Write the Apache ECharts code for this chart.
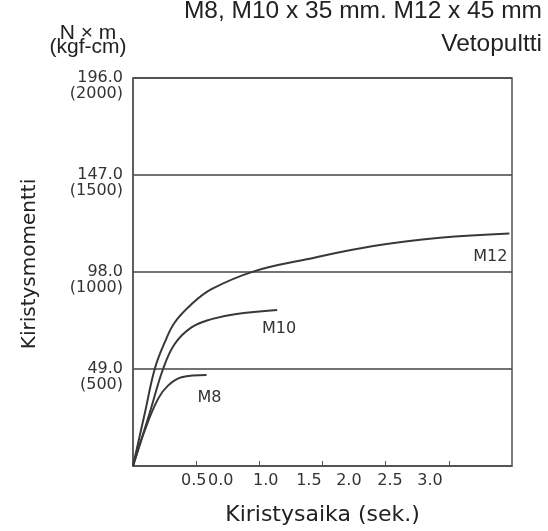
<!DOCTYPE html>
<html>
<head>
<meta charset="utf-8">
<script src="https://cdn.jsdelivr.net/npm/echarts@6/dist/echarts.min.js"></script>
<style>
html,body{margin:0;padding:0;background:#fff;}
#container{width:548px;height:531px;}
</style>
</head>
<body>
<div id="container"></div>
<script>
// tiedot luettu kuvasta (x = sek., y = N x m)
var m12X = [0, 0.093, 0.172, 0.251, 0.330, 0.463, 0.621, 0.951, 1.374, 1.902, 2.430, 2.979];
var m12Y = [0, 26.5, 49.0, 62.4, 72.5, 81.7, 89.3, 98.2, 104.4, 111.1, 115.3, 117.5];
var m10X = [0, 0.132, 0.238, 0.330, 0.463, 0.621, 0.806, 1.141];
var m10Y = [0, 26.8, 49.0, 61.6, 70.0, 74.2, 76.7, 78.8];
var m8X = [0, 0.093, 0.198, 0.277, 0.384, 0.582];
var m8Y = [0, 18.0, 33.9, 40.6, 44.8, 46.0];

// akselien merkinnät
var xTickValues = [0.5, 1.0, 1.5, 2.0, 2.5];
var xLabelPos = [0.481, 0.695, 1.051, 1.392, 1.709, 2.034, 2.351];
var xLabelText = ['0.5', '0.0', '1.0', '1.5', '2.0', '2.5', '3.0'];
var yTickValues = [49, 98, 147, 196];
var yKgfLabels = ['(500)', '(1000)', '(1500)', '(2000)'];

function pairs(xs, ys) {
	var out = [];
	for (var i = 0; i < xs.length; i++) {
		out.push([xs[i], ys[i]]);
	}
	return out;
}

var lineColor = '#383838';
var tickFont = 'DejaVu Sans';

function curve(name, xs, ys, endLabel) {
	return {
		name: name,
		type: 'line',
		data: pairs(xs, ys),
		smooth: 0.4,
		showSymbol: false,
		symbol: 'none',
		lineStyle: { color: lineColor, width: 2 },
		endLabel: endLabel
	};
}

function titleText(text, top) {
	return {
		text: text,
		right: 6,
		top: top,
		padding: 0,
		textStyle: {
			fontFamily: 'Liberation Sans',
			fontSize: 24.5,
			fontWeight: 'normal',
			color: '#222'
		}
	};
}

var myChart = echarts.init(document.getElementById('container'));
var option = {
	animation: false,
	title: [
		titleText('M8, M10 x 35 mm. M12 x 45 mm', -1),
		titleText('Vetopultti', 32),
		{
			text: 'N \u00d7 m\n(kgf-cm)',
			left: 88,
			top: 26,
			padding: 0,
			textAlign: 'center',
			textStyle: {
				fontFamily: 'Liberation Sans',
				fontSize: 21,
				fontWeight: 'normal',
				color: '#222',
				lineHeight: 14
			}
		}
	],
	grid: {
		left: 133,
		right: 36,
		top: 78,
		bottom: 64,
		show: true,
		borderColor: '#555',
		borderWidth: 1.5
	},
	xAxis: {
		type: 'value',
		min: 0,
		max: 3,
		interval: 0.5,
		name: 'Kiristysaika (sek.)',
		nameLocation: 'middle',
		nameGap: 38,
		nameTextStyle: { fontFamily: tickFont, fontSize: 22, color: '#222' },
		axisLine: { show: true, lineStyle: { color: '#555', width: 1.5 } },
		axisTick: { show: true, inside: true, length: 5, customValues: xTickValues, lineStyle: { color: '#555' } },
		axisLabel: {
			customValues: xLabelPos,
			margin: 7,
			fontFamily: tickFont,
			fontSize: 16,
			color: '#333',
			formatter: function(v) {
				var best = 0;
				for (var i = 1; i < xLabelPos.length; i++) {
					if (Math.abs(xLabelPos[i] - v) < Math.abs(xLabelPos[best] - v)) best = i;
				}
				return xLabelText[best];
			}
		},
		splitLine: { show: false }
	},
	yAxis: {
		type: 'value',
		min: 0,
		max: 196,
		interval: 49,
		name: 'Kiristysmomentti',
		nameLocation: 'middle',
		nameGap: 93,
		nameTextStyle: { fontFamily: tickFont, fontSize: 20, color: '#222', padding: [0, 0, 0, 16] },
		axisLine: { show: true, lineStyle: { color: '#555', width: 1.5 } },
		axisTick: { show: false },
		axisLabel: {
			customValues: yTickValues,
			margin: 10,
			fontFamily: tickFont,
			fontSize: 16,
			color: '#333',
			lineHeight: 16,
			formatter: function(v) {
				var i = yTickValues.indexOf(v);
				if (i < 0) return '';
				// tyhjä rivi ylhäällä, jotta ensimmäinen rivi osuu viivan kohdalle
				return ' \n' + v.toFixed(1) + '\n' + yKgfLabels[i];
			}
		},
		splitLine: { show: true, lineStyle: { color: '#444', width: 1.5 } }
	},
	series: [
		curve('M12', m12X, m12Y, {
			show: true, formatter: 'M12', distance: 0, align: 'right', verticalAlign: 'top',
			padding: [15, 2, 0, 0], fontFamily: tickFont, fontSize: 16, color: '#333'
		}),
		curve('M10', m10X, m10Y, {
			show: true, formatter: 'M10', distance: 0, align: 'center', verticalAlign: 'top',
			padding: [11, 0, 0, 4], fontFamily: tickFont, fontSize: 16, color: '#333'
		}),
		curve('M8', m8X, m8Y, {
			show: true, formatter: 'M8', distance: 0, align: 'center', verticalAlign: 'top',
			padding: [15, 0, 0, 6], fontFamily: tickFont, fontSize: 16, color: '#333'
		})
	]
};
myChart.setOption(option);
</script>
</body>
</html>
